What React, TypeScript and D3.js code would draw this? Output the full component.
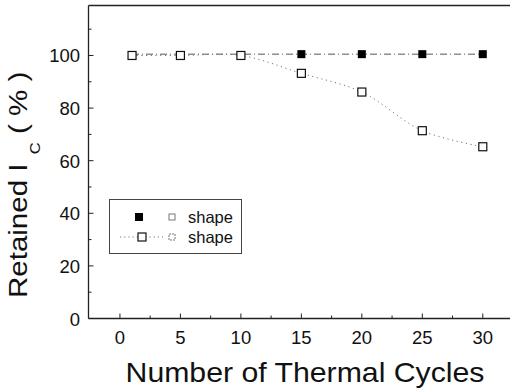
import React from "react";
import * as d3 from "d3";

const cycles = [1, 5, 10, 15, 20, 25, 30];
const filledValues = [100.5, 100.5, 100.5, 100.5, 100.5, 100.5, 100.5];
const filledVisibleFrom = 15;
const openValues = [100, 100, 100, 93.2, 86.1, 71.4, 65.3];
const xTicks = [0, 5, 10, 15, 20, 25, 30];
const xMinorTicks = [2.5, 7.5, 12.5, 17.5, 22.5, 27.5];
const yTicks = [0, 20, 40, 60, 80, 100];
const yMinorTicks = [10, 30, 50, 70, 90, 110];
const legendLabels = ["shape", "shape"];

const W = 510;
const H = 391;
const FONT = "'Liberation Sans', Arial, Helvetica, sans-serif";

export default function App() {
  const x = d3.scaleLinear().domain([-2.6, 32.25]).range([88.5, 510]);
  const y = d3.scaleLinear().domain([0, 119]).range([318.5, 5.5]);
  const x0 = x.range()[0];
  const x1 = x.range()[1];
  const yb = y.range()[0];
  const yt = y.range()[1];

  const filledPts = cycles.map((c, i) => [c, filledValues[i]] as [number, number]);
  const openPts = cycles.map((c, i) => [c, openValues[i]] as [number, number]);

  const straight = d3
    .line<[number, number]>()
    .x((d) => x(d[0]))
    .y((d) => y(d[1]));
  const smooth = d3
    .line<[number, number]>()
    .x((d) => x(d[0]))
    .y((d) => y(d[1]))
    .curve(d3.curveCatmullRom.alpha(0.5));

  const ms = 8;

  return (
    <svg
      width={W}
      height={H}
      style={{ position: "absolute", left: 0, top: 0, background: "#fff" }}
      fontFamily={FONT}
    >
      <rect x={0} y={0} width={W} height={H} fill="#fff" />
      {/* frame */}
      <line x1={x0} x2={x1} y1={yt} y2={yt} stroke="#222" strokeWidth={1.3} />
      <line x1={x0} x2={x1} y1={yb} y2={yb} stroke="#222" strokeWidth={1.3} />
      <line x1={x0} x2={x0} y1={yt} y2={yb} stroke="#222" strokeWidth={1.3} />

      {/* x ticks */}
      {xTicks.map((t) => (
        <g key={"xt" + t}>
          <line x1={x(t)} x2={x(t)} y1={yb} y2={yb - 5} stroke="#222" strokeWidth={1} />
          <text x={x(t)} y={344} fontSize={18.5} textAnchor="middle" fill="#111">
            {t}
          </text>
        </g>
      ))}
      {xMinorTicks.map((t) => (
        <line key={"xm" + t} x1={x(t)} x2={x(t)} y1={yb} y2={yb - 3} stroke="#222" strokeWidth={1} />
      ))}

      {/* y ticks */}
      {yTicks.map((t) => (
        <g key={"yt" + t}>
          <line x1={x0} x2={x0 + 5} y1={y(t)} y2={y(t)} stroke="#222" strokeWidth={1} />
          <text x={80} y={y(t) + 7} fontSize={18.5} textAnchor="end" fill="#111">
            {t}
          </text>
        </g>
      ))}
      {yMinorTicks.map((t) => (
        <line key={"ym" + t} x1={x0} x2={x0 + 3} y1={y(t)} y2={y(t)} stroke="#222" strokeWidth={1} />
      ))}

      {/* series lines */}
      <path
        d={straight(filledPts) || ""}
        fill="none"
        stroke="#555"
        strokeWidth={1}
        strokeDasharray="7,3,1,3"
      />
      <path
        d={smooth(openPts) || ""}
        fill="none"
        stroke="#777"
        strokeWidth={1}
        strokeDasharray="1.2,3.5"
      />

      {/* filled markers */}
      {filledPts
        .filter((p) => p[0] >= filledVisibleFrom)
        .map((p, i) => (
          <rect
            key={"f" + i}
            x={x(p[0]) - ms / 2}
            y={y(p[1]) - ms / 2}
            width={ms}
            height={ms}
            fill="#000"
          />
        ))}
      {/* open markers */}
      {openPts.map((p, i) => (
        <rect
          key={"o" + i}
          x={x(p[0]) - ms / 2}
          y={y(p[1]) - ms / 2}
          width={ms}
          height={ms}
          fill="#fff"
          stroke="#111"
          strokeWidth={1.2}
        />
      ))}

      {/* legend */}
      <rect x={109.5} y={199.5} width={132} height={54} fill="#fff" stroke="#444" strokeWidth={1} />
      <rect x={135} y={213} width={8} height={8} fill="#000" />
      <rect x={169} y={214} width={6} height={6} fill="#fff" stroke="#777" strokeWidth={1} />
      <text x={188} y={223} fontSize={16.5} fill="#111">
        {legendLabels[0]}
      </text>
      <line x1={120} x2={163} y1={237} y2={237} stroke="#777" strokeWidth={1} strokeDasharray="1.2,3" />
      <rect x={138} y={233} width={8} height={8} fill="#fff" stroke="#111" strokeWidth={1.2} />
      <rect
        x={169}
        y={234}
        width={6}
        height={6}
        fill="#fff"
        stroke="#777"
        strokeWidth={1}
        strokeDasharray="2,1"
      />
      <text x={188} y={243} fontSize={16.5} fill="#111">
        {legendLabels[1]}
      </text>

      {/* y title */}
      <g transform="translate(27,0) rotate(-90) scale(1.18,1)">
        <text x={-298 / 1.18} y={0} fontSize={25} fill="#111">
          <tspan>Retained I</tspan>
          <tspan fontSize={14} dx={8} dy={13}>
            C
          </tspan>
          <tspan dy={-13}>{" ( % )"}</tspan>
        </text>
      </g>

      {/* x title */}
      <g transform="translate(305,382) scale(1.08,1)">
        <text x={0} y={0} fontSize={28} textAnchor="middle" fill="#111">
          Number of Thermal Cycles
        </text>
      </g>
    </svg>
  );
}
